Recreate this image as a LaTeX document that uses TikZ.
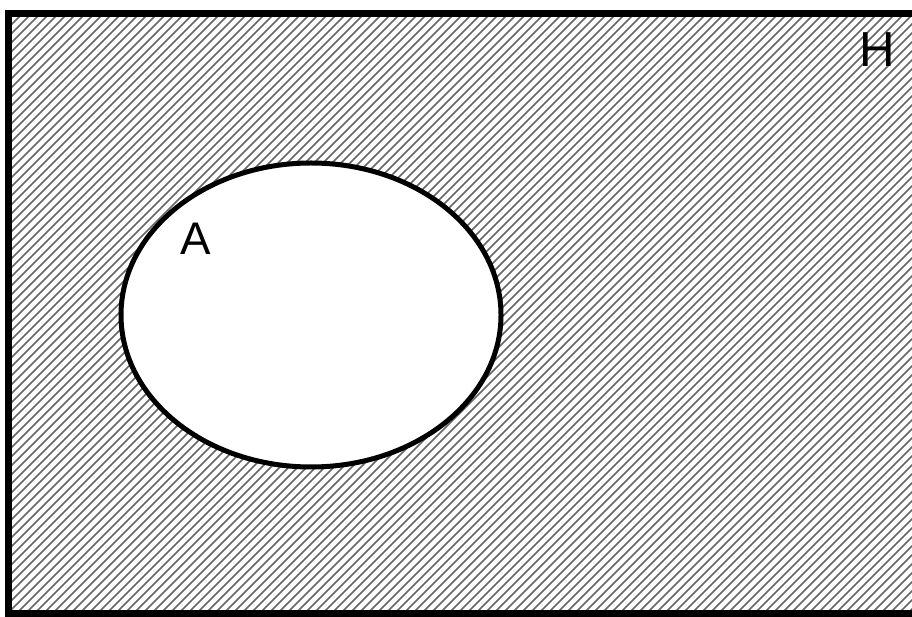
\documentclass[tikz,border=0pt]{standalone}
\usepackage{fontspec}
\setmainfont{Liberation Sans}
\usepackage{xcolor}
\usepackage{tikz}
\usetikzlibrary{positioning}
\definecolor{hatchGray}{HTML}{666666}
\tikzset{
  universo/.style={draw=black, line width=0.14cm},
  conjunto/.style={draw=black, line width=0.1cm, fill=white},
  rayado/.style={draw=hatchGray, line width=0.034cm},
  etiqueta/.style={font=\fontsize{26}{30}\selectfont, inner sep=0pt},
}
\begin{document}
\begin{tikzpicture}[x=0.02cm, y=-0.02cm]
\useasboundingbox (0,0) rectangle (912,617);
\fill[white] (0,0) rectangle (912,617);

% rayado del universo
\begin{scope}
\clip (8.5,13.5) rectangle (930,613.5);
\foreach \c in {0,9,...,1540}
  \draw[rayado] (\c,0) -- (\c-620,620);
\end{scope}
\draw[universo] (8.5,13.5) rectangle (930,613.5);

% conjunto A
\draw[conjunto] (311,315) ellipse [x radius=190, y radius=152];

\node[etiqueta] (labA) at (196,239) {A};
\node[etiqueta, font=\fontsize{28}{32}\selectfont] (labH) at (877,50) {H};
\end{tikzpicture}
\end{document}
